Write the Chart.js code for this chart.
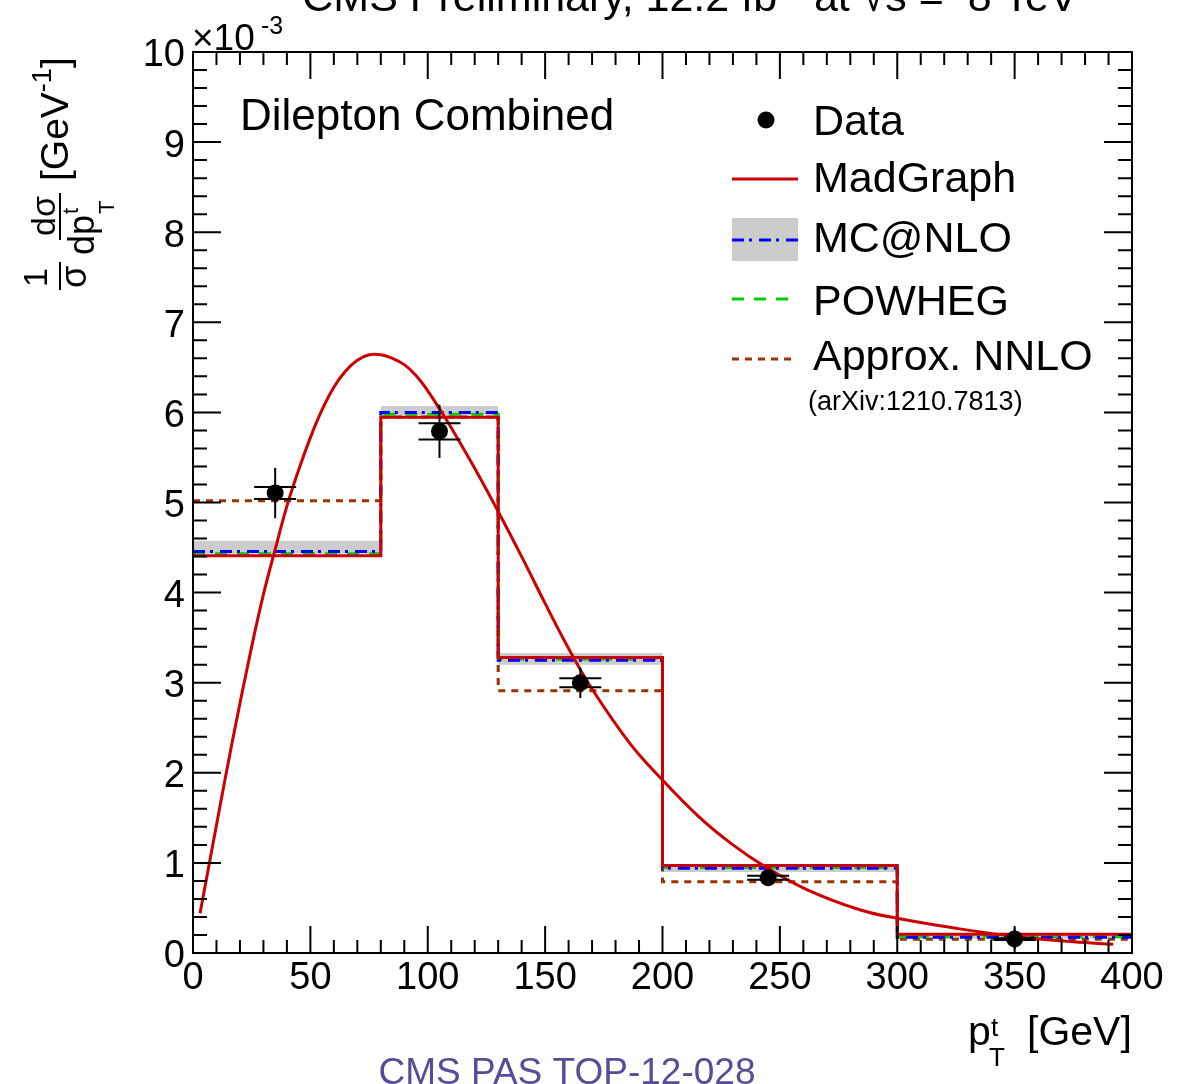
<!DOCTYPE html>
<html>
<head>
<title>Dilepton Combined pT top</title>
<script src="https://cdn.jsdelivr.net/npm/chart.js@4.4.0/dist/chart.umd.min.js"></script>
<style>
  html, body { margin: 0; padding: 0; background: #fff; }
  #wrap { width: 1192px; height: 1084px; position: relative; }
</style>
</head>
<body>
<div id="wrap"><canvas id="ptChart"></canvas></div>
<script>
// values in units of 10^-3 GeV^-1
var binEdges = [0, 80, 130, 200, 300, 400];
var madgraphHist = [4.41, 5.945, 3.28, 0.97, 0.207];
var mcatnloHist = [4.455, 6.00, 3.25, 0.94, 0.175];
var mcatnloLow = [4.43, 5.97, 3.20, 0.90, 0.16];
var mcatnloHigh = [4.575, 6.07, 3.33, 0.96, 0.20];
var powhegHist = [4.43, 5.98, 3.26, 0.95, 0.18];
var nnloHist = [5.02, 5.95, 2.91, 0.79, 0.152];

var dataX = [35, 105, 165, 245, 350];
var dataY = [5.105, 5.79, 3.00, 0.836, 0.155];
var dataErrTot = [0.28, 0.295, 0.17, 0.06, 0.115];
var dataErrStat = [0.067, 0.09, 0.05, 0.022, 0.01];

// MadGraph smooth curve
var madgraphX = [3, 10, 17, 25, 30, 35, 40, 45, 50, 55, 60, 65, 70, 75, 80, 85, 90, 95, 100, 105, 110, 120, 130, 140, 150, 160, 170, 186, 200, 216, 230, 243, 261, 284, 300, 325, 351, 375, 392];
var madgraphY = [0.44, 1.42, 2.38, 3.40, 3.98, 4.48, 4.96, 5.36, 5.72, 6.03, 6.28, 6.46, 6.58, 6.64, 6.64, 6.60, 6.53, 6.41, 6.24, 6.04, 5.83, 5.38, 4.90, 4.40, 3.88, 3.38, 2.93, 2.33, 1.92, 1.50, 1.20, 0.97, 0.71, 0.48, 0.385, 0.274, 0.18, 0.125, 0.096];

var xTicks = [0, 50, 100, 150, 200, 250, 300, 350, 400];
var yTicks = [0, 1, 2, 3, 4, 5, 6, 7, 8, 9, 10];

var FONT = '"Liberation Sans", Arial, Helvetica, sans-serif';
var RED = '#cc0000', BLUE = '#0000ff', GREEN = '#00cc00', BROWN = '#993300';
var DASH_BLUE = [12, 5, 3, 7], DASH_GREEN = [12, 10], DASH_BROWN = [7, 6];

function histPoints(vals) {
    return binEdges.map(function (e, i) {
        return { x: e, y: vals[Math.min(i, vals.length - 1)] };
    });
}

function f(px) { return px + 'px ' + FONT; }

// error bars under the data markers
var errorBars = {
    id: 'errorBars',
    beforeDatasetDraw: function (chart, args) {
        if (args.meta.label !== 'Data') return;
        var ctx = chart.ctx, xs = chart.scales.x, ys = chart.scales.y;
        ctx.save();
        ctx.strokeStyle = '#000';
        ctx.lineWidth = 2;
        for (var i = 0; i < dataX.length; i++) {
            var px = xs.getPixelForValue(dataX[i]);
            var y1 = ys.getPixelForValue(dataY[i] + dataErrTot[i]);
            var y2 = ys.getPixelForValue(dataY[i] - dataErrTot[i]);
            ctx.beginPath(); ctx.moveTo(px, y1); ctx.lineTo(px, y2); ctx.stroke();
            var s1 = ys.getPixelForValue(dataY[i] + dataErrStat[i]);
            var s2 = ys.getPixelForValue(dataY[i] - dataErrStat[i]);
            ctx.beginPath();
            ctx.moveTo(px - 21, s1); ctx.lineTo(px + 21, s1);
            ctx.moveTo(px - 21, s2); ctx.lineTo(px + 21, s2);
            ctx.stroke();
        }
        ctx.restore();
    }
};

function rotText(ctx, text, X, Yb, size) {
    ctx.save();
    ctx.rotate(-Math.PI / 2);
    ctx.font = f(size);
    ctx.textAlign = 'left';
    ctx.textBaseline = 'alphabetic';
    ctx.fillText(text, -Yb, X);
    var w = ctx.measureText(text).width;
    ctx.restore();
    return w;
}

var decor = {
    id: 'decor',
    afterDraw: function (chart) {
        var ctx = chart.ctx, a = chart.chartArea;
        var xs = chart.scales.x, ys = chart.scales.y;
        ctx.save();
        ctx.strokeStyle = '#000';
        ctx.fillStyle = '#000';
        ctx.lineWidth = 2;
        // frame
        ctx.strokeRect(a.left, a.top, a.right - a.left, a.bottom - a.top);
        // ROOT style inside ticks
        ctx.beginPath();
        for (var v = 0; v <= 10.001; v += 0.2) {
            var py = ys.getPixelForValue(v);
            var major = Math.abs(v - Math.round(v)) < 0.01;
            var len = major ? 28 : 14;
            ctx.moveTo(a.left, py); ctx.lineTo(a.left + len, py);
            ctx.moveTo(a.right, py); ctx.lineTo(a.right - len, py);
        }
        for (var u = 0; u <= 400; u += 10) {
            var px = xs.getPixelForValue(u);
            var len2 = (u % 50 === 0) ? 27 : 13;
            ctx.moveTo(px, a.bottom); ctx.lineTo(px, a.bottom - len2);
            ctx.moveTo(px, a.top); ctx.lineTo(px, a.top + len2);
        }
        ctx.stroke();

        // exponent
        ctx.textAlign = 'left';
        ctx.textBaseline = 'alphabetic';
        ctx.font = f(37);
        ctx.fillText('\u00d710', 192, 50);
        ctx.font = f(25);
        ctx.fillText('-3', 261, 34);

        // top title (partly cut by the image edge)
        var parts = [
            ['CMS Preliminary, 12.2 fb', 43, 11],
            ['-1', 28, -7],
            [' at ', 43, 11],
            ['\u221as', 43, 11],
            [' =  8 TeV', 43, 11]
        ];
        var total = 0;
        parts.forEach(function (p) { ctx.font = f(p[1]); total += ctx.measureText(p[0]).width; });
        var tx = 690 - total / 2;
        parts.forEach(function (p) {
            ctx.font = f(p[1]);
            ctx.fillText(p[0], tx, p[2]);
            tx += ctx.measureText(p[0]).width;
        });

        // x axis title
        ctx.font = f(41);
        ctx.fillText('p', 968, 1045);
        ctx.font = f(26);
        ctx.fillText('t', 991, 1036);
        ctx.fillText('T', 989, 1066);
        ctx.font = f(41);
        ctx.fillText('[GeV]', 1027, 1045);

        // y axis title (rotated)
        rotText(ctx, '1', 47, 287, 34);
        rotText(ctx, '\u03c3', 86, 288, 36);
        rotText(ctx, 'd\u03c3', 55, 236, 34);
        var wdp = rotText(ctx, 'dp', 94, 255, 36);
        rotText(ctx, 't', 78, 255 - wdp - 1, 22);
        rotText(ctx, 'T', 114, 255 - wdp - 1, 22);
        ctx.beginPath();
        ctx.moveTo(60, 262); ctx.lineTo(60, 290);
        ctx.moveTo(60, 193); ctx.lineTo(60, 240);
        ctx.stroke();
        var yb = 181;
        yb -= rotText(ctx, '[GeV', 68, yb, 39);
        yb -= rotText(ctx, '-1', 51, yb, 27);
        rotText(ctx, ']', 68, yb, 39);

        // labels
        ctx.font = f(44);
        ctx.fillText('Dilepton Combined', 240, 130);

        // legend
        var lx = 813;
        ctx.font = f(43);
        ctx.fillText('Data', lx, 135);
        ctx.fillText('MadGraph', lx, 192);
        ctx.fillText('MC@NLO', lx, 252);
        ctx.fillText('POWHEG', lx, 315);
        ctx.fillText('Approx. NNLO', lx, 370);
        ctx.font = f(27);
        ctx.fillText('(arXiv:1210.7813)', 808, 410);

        ctx.beginPath();
        ctx.arc(766, 120, 8.5, 0, Math.PI * 2);
        ctx.fill();

        ctx.lineWidth = 3;
        ctx.strokeStyle = RED;
        ctx.beginPath(); ctx.moveTo(732, 179); ctx.lineTo(798, 179); ctx.stroke();

        ctx.fillStyle = '#cccccc';
        ctx.fillRect(732, 218, 66, 43);
        ctx.strokeStyle = BLUE;
        ctx.setLineDash(DASH_BLUE);
        ctx.beginPath(); ctx.moveTo(732, 240); ctx.lineTo(798, 240); ctx.stroke();

        ctx.strokeStyle = GREEN;
        ctx.setLineDash(DASH_GREEN);
        ctx.beginPath(); ctx.moveTo(732, 299); ctx.lineTo(790, 299); ctx.stroke();

        ctx.strokeStyle = BROWN;
        ctx.setLineDash(DASH_BROWN);
        ctx.beginPath(); ctx.moveTo(732, 359); ctx.lineTo(795, 359); ctx.stroke();
        ctx.setLineDash([]);

        // report number
        ctx.fillStyle = 'rgb(88,76,152)';
        ctx.font = f(37);
        ctx.textAlign = 'center';
        ctx.fillText('CMS PAS TOP-12-028', 567, 1084);
        ctx.restore();
    }
};

Chart.defaults.font.family = FONT;
Chart.defaults.color = '#000';

new Chart('ptChart', {
    type: 'line',
    data: {
        datasets: [
            {
                label: 'Data', type: 'scatter',
                data: dataX.map(function (x, i) { return { x: x, y: dataY[i] }; }),
                pointRadius: 8.5, pointBackgroundColor: '#000', pointBorderWidth: 0,
                showLine: false, order: 0
            },
            {
                label: 'MadGraph curve', data: madgraphX.map(function (x, i) { return { x: x, y: madgraphY[i] }; }),
                borderColor: RED, borderWidth: 3, pointRadius: 0, tension: 0.4,
                fill: false, order: 1
            },
            {
                label: 'MadGraph', data: histPoints(madgraphHist), stepped: true,
                borderColor: RED, borderWidth: 3, pointRadius: 0, fill: false, order: 2
            },
            {
                label: 'MC@NLO', data: histPoints(mcatnloHist), stepped: true,
                borderColor: BLUE, borderWidth: 3, borderDash: DASH_BLUE, pointRadius: 0, fill: false, order: 3
            },
            {
                label: 'POWHEG', data: histPoints(powhegHist), stepped: true,
                borderColor: GREEN, borderWidth: 3, borderDash: DASH_GREEN, pointRadius: 0, fill: false, order: 4
            },
            {
                label: 'Approx. NNLO', data: histPoints(nnloHist), stepped: true,
                borderColor: BROWN, borderWidth: 3, borderDash: DASH_BROWN, pointRadius: 0, fill: false, order: 5
            },
            {
                label: 'MC@NLO high', data: histPoints(mcatnloHigh), stepped: true,
                borderWidth: 0, borderColor: 'rgba(0,0,0,0)', pointRadius: 0,
                backgroundColor: '#cccccc', fill: '+1', order: 6
            },
            {
                label: 'MC@NLO low', data: histPoints(mcatnloLow), stepped: true,
                borderWidth: 0, borderColor: 'rgba(0,0,0,0)', pointRadius: 0, fill: false, order: 7
            }
        ]
    },
    options: {
        responsive: true,
        maintainAspectRatio: false,
        animation: false,
        devicePixelRatio: 1,
        layout: { padding: { top: 52, right: 60, left: 0, bottom: 0 } },
        plugins: { legend: { display: false }, tooltip: { enabled: false } },
        scales: {
            x: {
                type: 'linear', min: 0, max: 400,
                afterBuildTicks: function (s) { s.ticks = xTicks.map(function (v) { return { value: v }; }); },
                afterFit: function (s) { s.height = 131; },
                grid: { display: false, drawTicks: false },
                border: { display: false },
                ticks: { font: { size: 38 }, padding: 3, maxRotation: 0, autoSkip: false, color: '#000' }
            },
            y: {
                type: 'linear', min: 0, max: 10,
                afterBuildTicks: function (s) { s.ticks = yTicks.map(function (v) { return { value: v }; }); },
                afterFit: function (s) { s.width = 193; },
                grid: { display: false, drawTicks: false },
                border: { display: false },
                ticks: { font: { size: 38 }, padding: 8, labelOffset: 4, autoSkip: false, color: '#000' }
            }
        }
    },
    plugins: [errorBars, decor]
});
</script>
</body>
</html>
